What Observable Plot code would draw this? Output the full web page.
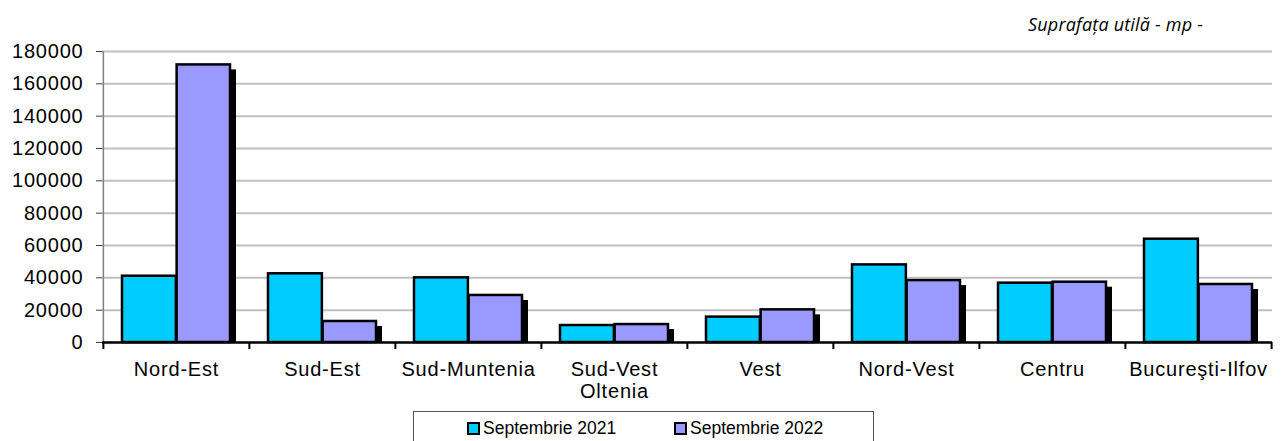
<!DOCTYPE html>
<html>
<head>
<meta charset="utf-8">
<script src="https://cdn.jsdelivr.net/npm/d3@7"></script>
<script src="https://cdn.jsdelivr.net/npm/@observablehq/plot@0.6"></script>
<style>
  html, body { margin: 0; padding: 0; background: #fff; }
  #wrap { position: relative; width: 1283px; height: 441px; overflow: hidden; }
  #sub { position: absolute; right: 80px; top: 12px; font-family: "Open Sans", sans-serif; font-style: italic; font-size: 18px; letter-spacing: 0.2px; color: #000; }
  #legend { position: absolute; left: 413px; top: 411px; width: 461px; height: 40px; border: 1px solid #555; box-sizing: border-box;
    font-family: "Liberation Sans", Arial, sans-serif; font-size: 17.5px; }
  .item { position: absolute; top: 6px; display: flex; align-items: center; }
  .sw { width: 9px; height: 9px; border: 2px solid #000; margin-right: 3px; }
</style>
</head>
<body>
<div id="wrap">
  <div id="chart"></div>
  <div id="sub">Suprafața utilă - mp -</div>
  <div id="legend"></div>
</div>
<script>
const regions = ["Nord-Est", "Sud-Est", "Sud-Muntenia", "Sud-Vest Oltenia", "Vest", "Nord-Vest", "Centru", "Bucureşti-Ilfov"];
const regionLabels = ["Nord-Est", "Sud-Est", "Sud-Muntenia", "Sud-Vest\nOltenia", "Vest", "Nord-Vest", "Centru", "Bucureşti-Ilfov"];
const seriesNames = ["Septembrie 2021", "Septembrie 2022"];
const sep2021 = [41000, 42500, 40000, 10500, 15700, 48000, 36700, 63900];
const sep2022 = [171700, 13000, 29100, 11100, 20200, 38300, 37300, 35900];
const yTicks = [0, 20000, 40000, 60000, 80000, 100000, 120000, 140000, 160000, 180000];
const colors = ["#00CCFF", "#9999FF"];

const rows2021 = regions.map((r, i) => ({region: r, value: sep2021[i]}));
const rows2022 = regions.map((r, i) => ({region: r, value: sep2022[i]}));
const labelOf = new Map(regions.map((r, i) => [r, regionLabels[i]]));

const W = 1283, mL = 102, mR = 11;
const band = (W - mL - mR) / regions.length;
const pad = 19;
const half = band / 2;

const chart = Plot.plot({
  width: W,
  height: 441,
  marginLeft: mL,
  marginRight: mR,
  marginTop: 51,
  marginBottom: 99,
  style: {fontFamily: "'Liberation Sans', Arial, sans-serif", fontSize: "20px", letterSpacing: "0.8px", color: "#000", background: "#fff"},
  x: {domain: regions, padding: 0, label: null},
  y: {domain: [0, 180000], label: null},
  marks: [
    Plot.ruleY(yTicks.slice(1), {stroke: "#c0c0c0", strokeWidth: 2}),
    Plot.ruleX([regions[0]], {y1: 0, y2: 180000, dx: -half, stroke: "#7f7f7f", strokeWidth: 1.5}),
    Plot.axisY({ticks: yTicks, tickSize: 6, tickPadding: 13, stroke: "#404040", tickFormat: d => String(d), label: null}),
    Plot.axisX({tickSize: 6, tickPadding: 12, tickFormat: d => labelOf.get(d), lineHeight: 1.1, strokeWidth: 0, label: null}),
    Plot.axisX({tickSize: 7, dx: -half, tickFormat: () => "", stroke: "#000", strokeWidth: 2, label: null}),
    Plot.axisX({ticks: [regions[regions.length - 1]], tickSize: 7, dx: half, tickFormat: () => "", stroke: "#000", strokeWidth: 2, label: null}),
    Plot.barY(rows2022, {x: "region", y: "value", fill: "#000", insetLeft: half + 0.5, insetRight: pad, insetTop: 5, dx: 6}),
    Plot.barY(rows2021, {x: "region", y: "value", fill: colors[0], stroke: "#000", strokeWidth: 2.5, insetLeft: pad, insetRight: half}),
    Plot.barY(rows2022, {x: "region", y: "value", fill: colors[1], stroke: "#000", strokeWidth: 2.5, insetLeft: half + 0.5, insetRight: pad}),
    Plot.ruleY([0], {stroke: "#000", strokeWidth: 2.5})
  ]
});
document.getElementById("chart").appendChild(chart);

const legend = document.getElementById("legend");
const lefts = [53, 260];
seriesNames.forEach((name, i) => {
  const it = document.createElement("div");
  it.className = "item";
  it.style.left = lefts[i] + "px";
  const sw = document.createElement("span");
  sw.className = "sw";
  sw.style.background = colors[i];
  const tx = document.createElement("span");
  tx.textContent = name;
  it.appendChild(sw);
  it.appendChild(tx);
  legend.appendChild(it);
});
</script>
</body>
</html>
